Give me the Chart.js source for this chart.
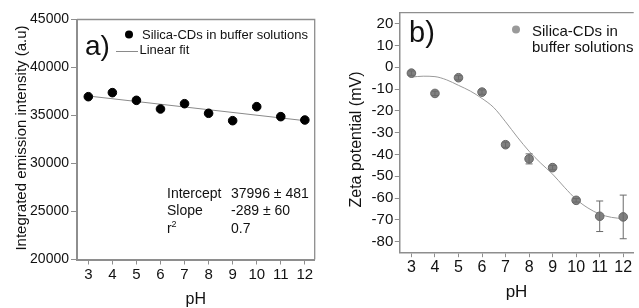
<!DOCTYPE html>
<html>
<head>
<meta charset="utf-8">
<script src="https://cdn.jsdelivr.net/npm/chart.js@4.4.1/dist/chart.umd.min.js"></script>
<style>
  html, body { margin: 0; padding: 0; background: #fff; }
  #wrap { position: relative; width: 639px; height: 308px; }
  .panel { position: absolute; top: 0; height: 308px; }
  #panelA { left: 0; width: 320px; }
  #panelB { left: 320px; width: 319px; }
</style>
</head>
<body>
<div id="wrap">
  <div class="panel" id="panelA"><canvas id="chartA" width="320" height="308"></canvas></div>
  <div class="panel" id="panelB"><canvas id="chartB" width="319" height="308"></canvas></div>
</div>
<script>
// pH values shared by both panels
const phValues = [3, 4, 5, 6, 7, 8, 9, 10, 11, 12];

// Panel a) integrated emission intensity
const intensity = [36960, 37380, 36580, 35680, 36230, 35230, 34460, 35920, 34880, 34530];
const fitPh = [3, 12];
const fitIntensity = [37030, 34460];
const intensityTicks = [20000, 25000, 30000, 35000, 40000, 45000];

// Panel b) zeta potential with error bars and fitted curve
const zeta = [-2.7, -12, -4.8, -11.4, -35.5, -42, -46, -61, -68.3, -68.6];
const zetaError = [1, 1, 1, 1, 1.2, 2.3, 1, 0.8, 7, 10];
const curvePh = [3, 3.5, 4, 4.5, 5, 5.5, 6, 6.5, 7, 7.5, 8, 8.5, 9, 9.5, 10, 10.5, 11, 11.5, 12];
const curveZeta = [-4.5, -4.1, -4.3, -5.8, -8.3, -10.9, -14.3, -18.5, -25, -32, -38.5, -44, -49, -55, -60.5, -64.5, -67.3, -68.8, -69.4];
const zetaTicks = [-80, -70, -60, -50, -40, -30, -20, -10, 0, 10, 20];

const FONT = "'Liberation Sans', Arial, sans-serif";
const GRAY = '#8e8e8e';
const INK = '#111';

Chart.defaults.font.family = FONT;
Chart.defaults.color = INK;

function toPoints(xs, ys) {
    return xs.map((x, i) => ({ x: x, y: ys[i] }));
}

// Top / right frame lines of the plot box
const framePlugin = {
    id: 'frame',
    afterDraw(chart, args, opts) {
        const { ctx, chartArea: a } = chart;
        ctx.save();
        ctx.strokeStyle = GRAY;
        ctx.lineWidth = opts.width || 1.2;
        ctx.beginPath();
        ctx.moveTo(a.left, a.top);
        ctx.lineTo(a.right, a.top);
        if (opts.right) {
            ctx.lineTo(a.right, a.bottom);
        }
        ctx.stroke();
        ctx.restore();
    }
};

// Free text, legend symbols and rotated axis titles
const textPlugin = {
    id: 'panelText',
    afterDraw(chart, args, opts) {
        const ctx = chart.ctx;
        ctx.save();
        (opts.marks || []).forEach(m => {
            ctx.beginPath();
            if (m.kind === 'dot') {
                ctx.fillStyle = m.color;
                ctx.arc(m.x, m.y, m.r, 0, Math.PI * 2);
                ctx.fill();
            } else {
                ctx.strokeStyle = m.color;
                ctx.lineWidth = 1;
                ctx.moveTo(m.x, m.y);
                ctx.lineTo(m.x2, m.y);
                ctx.stroke();
            }
        });
        (opts.items || []).forEach(t => {
            ctx.fillStyle = INK;
            ctx.font = t.size + 'px ' + FONT;
            ctx.textBaseline = t.baseline || 'alphabetic';
            ctx.textAlign = t.align || 'left';
            if (t.rotate) {
                ctx.save();
                ctx.translate(t.x, t.y);
                ctx.rotate(-Math.PI / 2);
                ctx.fillText(t.text, 0, 0);
                ctx.restore();
            } else {
                ctx.fillText(t.text, t.x, t.y);
            }
        });
        ctx.restore();
    }
};

// Vertical error bars with caps
const errorBarPlugin = {
    id: 'errorBars',
    afterDatasetsDraw(chart) {
        const { ctx, scales: { x, y } } = chart;
        ctx.save();
        ctx.strokeStyle = '#6a6a6a';
        ctx.lineWidth = 1;
        phValues.forEach((ph, i) => {
            const px = x.getPixelForValue(ph);
            const top = y.getPixelForValue(zeta[i] + zetaError[i]);
            const bottom = y.getPixelForValue(zeta[i] - zetaError[i]);
            ctx.beginPath();
            ctx.moveTo(px, top);
            ctx.lineTo(px, bottom);
            ctx.moveTo(px - 3.5, top);
            ctx.lineTo(px + 3.5, top);
            ctx.moveTo(px - 3.5, bottom);
            ctx.lineTo(px + 3.5, bottom);
            ctx.stroke();
        });
        ctx.restore();
    }
};

function axisLines(width, tickLength) {
    return {
        grid: {
            display: true,
            drawOnChartArea: false,
            drawTicks: true,
            tickLength: tickLength,
            tickColor: GRAY,
            tickWidth: 1
        },
        border: { display: true, color: GRAY, width: width }
    };
}

// Panel a)
new Chart(document.getElementById('chartA'), {
    type: 'scatter',
    data: {
        datasets: [
            {
                label: 'Linear fit',
                type: 'line',
                data: toPoints(fitPh, fitIntensity),
                borderColor: '#8a8a8a',
                borderWidth: 1,
                pointRadius: 0,
                order: 2
            },
            {
                label: 'Silica-CDs in buffer solutions',
                data: toPoints(phValues, intensity),
                backgroundColor: '#000',
                borderColor: '#000',
                pointRadius: 4.3,
                order: 1
            }
        ]
    },
    options: {
        responsive: false,
        animation: false,
        layout: { padding: { left: 0, top: 19.5, right: 3, bottom: 0 } },
        plugins: {
            legend: { display: false },
            tooltip: { enabled: false },
            frame: { right: true, width: 1.3 },
            panelText: {
                marks: [
                    { kind: 'dot', x: 129, y: 34.5, r: 4, color: '#000' },
                    { kind: 'line', x: 116, x2: 138, y: 51.5, color: '#8a8a8a' }
                ],
                items: [
                    { text: 'a)', x: 85, y: 55, size: 28 },
                    { text: 'Silica-CDs in buffer solutions', x: 142, y: 38.5, size: 13 },
                    { text: 'Linear fit', x: 139.5, y: 53.5, size: 13 },
                    { text: 'Intercept', x: 167, y: 197.5, size: 14 },
                    { text: '37996 \u00b1 481', x: 231, y: 197.5, size: 14 },
                    { text: 'Slope', x: 167, y: 215, size: 14 },
                    { text: '-289 \u00b1 60', x: 231, y: 215, size: 14 },
                    { text: 'r', x: 167, y: 233, size: 14 },
                    { text: '2', x: 171.5, y: 227, size: 9 },
                    { text: '0.7', x: 231, y: 233, size: 14 },
                    { text: 'Integrated emission intensity (a.u)', x: 25.5, y: 138, size: 15, align: 'center', rotate: true }
                ]
            }
        },
        scales: {
            x: Object.assign({
                type: 'linear',
                min: 2.53,
                max: 12.41,
                afterBuildTicks: s => { s.ticks = phValues.map(v => ({ value: v })); },
                afterFit: s => { s.height = 48.5; },
                ticks: { font: { size: 15 }, padding: 1, maxRotation: 0, autoSkip: false },
                title: { display: true, text: 'pH', font: { size: 16, lineHeight: 1 }, padding: { top: 0, bottom: 0 } }
            }, axisLines(2, 5)),
            y: Object.assign({
                min: 20000,
                max: 45000,
                afterBuildTicks: s => { s.ticks = intensityTicks.map(v => ({ value: v })); },
                afterFit: s => { s.width = 77; },
                ticks: { font: { size: 14 }, padding: 2, callback: v => String(v) }
            }, axisLines(2, 6))
        }
    },
    plugins: [framePlugin, textPlugin]
});

// Panel b)
new Chart(document.getElementById('chartB'), {
    type: 'scatter',
    data: {
        datasets: [
            {
                label: 'Fit',
                type: 'line',
                data: toPoints(curvePh, curveZeta),
                borderColor: '#9a9a9a',
                borderWidth: 1,
                pointRadius: 0,
                cubicInterpolationMode: 'monotone',
                order: 2
            },
            {
                label: 'Silica-CDs in buffer solutions',
                data: toPoints(phValues, zeta),
                backgroundColor: '#808080',
                borderColor: '#666',
                borderWidth: 1,
                pointRadius: 4.3,
                order: 1
            }
        ]
    },
    options: {
        responsive: false,
        animation: false,
        layout: { padding: { left: 0, top: 12.7, right: 0, bottom: 0 } },
        plugins: {
            legend: { display: false },
            tooltip: { enabled: false },
            frame: { right: false, width: 1.2 },
            panelText: {
                marks: [
                    { kind: 'dot', x: 196, y: 29.5, r: 4, color: '#9a9a9a' }
                ],
                items: [
                    { text: 'b)', x: 89, y: 41.5, size: 29 },
                    { text: 'Silica-CDs in', x: 212, y: 36, size: 15 },
                    { text: 'buffer solutions', x: 212, y: 51.5, size: 15 },
                    { text: 'Zeta potential (mV)', x: 41, y: 139.5, size: 16, align: 'center', rotate: true }
                ]
            }
        },
        scales: {
            x: Object.assign({
                type: 'linear',
                min: 2.485,
                max: 12.445,
                afterBuildTicks: s => { s.ticks = phValues.map(v => ({ value: v })); },
                afterFit: s => { s.height = 55.3; },
                ticks: { font: { size: 16 }, padding: 1, maxRotation: 0, autoSkip: false },
                title: { display: true, text: 'pH', font: { size: 17, lineHeight: 1 }, padding: { top: 0, bottom: 7 } }
            }, axisLines(1.5, 4.5)),
            y: Object.assign({
                min: -85,
                max: 25,
                afterBuildTicks: s => { s.ticks = zetaTicks.map(v => ({ value: v })); },
                afterFit: s => { s.width = 79.3; },
                ticks: { font: { size: 15 }, padding: 1.5 }
            }, axisLines(1.5, 4.5))
        }
    },
    plugins: [framePlugin, textPlugin, errorBarPlugin]
});
</script>
</body>
</html>
